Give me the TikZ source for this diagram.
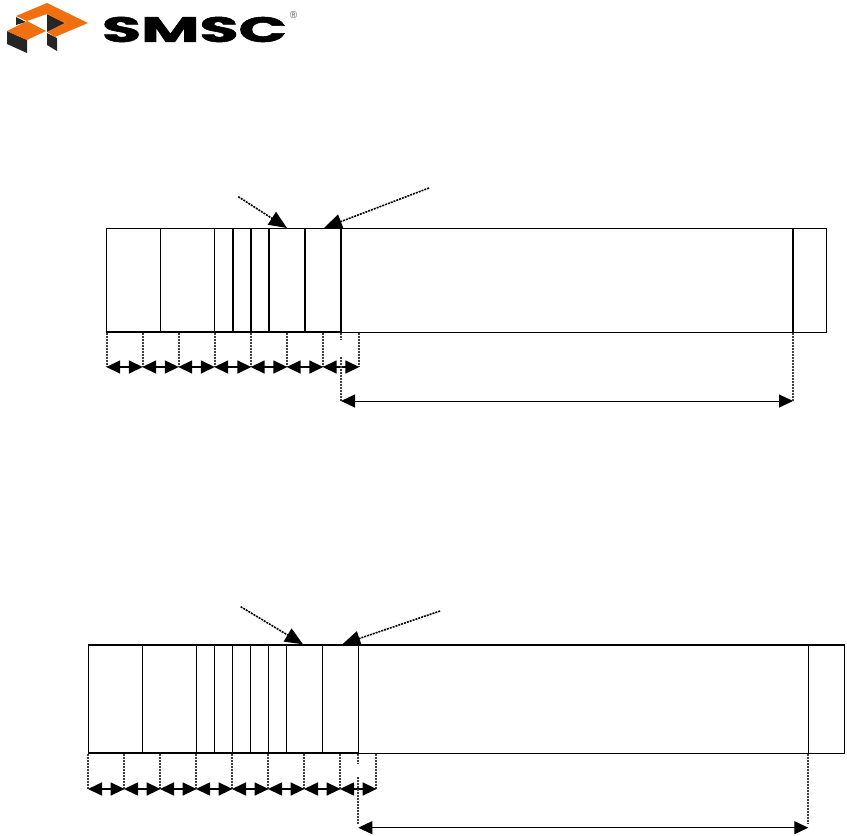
\documentclass[tikz,border=0pt]{standalone}
\usepackage{fontspec}
\setmainfont{Liberation Sans}
\newfontfamily\logofont[BoldFeatures={FakeBold=1.5}]{Poppins}
\usetikzlibrary{arrows.meta}
\definecolor{smscorange}{RGB}{240,112,16}
\definecolor{smscdark}{RGB}{38,38,38}
\tikzset{
  x=1pt,y=-1pt,
  frameline/.style={draw=black,line width=1pt},
  thickdiv/.style={draw=black,line width=1.6pt},
  guide/.style={draw=black!75,line width=2pt,dash pattern=on 2pt off 1pt},
  dim/.style={draw=black,line width=1pt,{Triangle[length=14pt,width=13pt]}-{Triangle[length=14pt,width=13pt]}},
  seg/.style={draw=black,line width=1.6pt,{Triangle[length=14pt,width=13pt]}-{Triangle[length=14pt,width=13pt]},shorten <=-0.3pt,shorten >=-0.3pt},
  pointer/.style={draw=black,line width=1.6pt,dash pattern=on 2pt off 1pt,-{Triangle[length=18pt,width=15pt,color=black]}},
}
\begin{document}
\begin{tikzpicture}
\useasboundingbox (0,0) rectangle (847,836);
% logo
\fill[smscdark] (7,31)--(27,40)--(27,53)--(7,44)--cycle;
\fill[smscdark] (16,17)--(26,22)--(16,25)--cycle;
\fill[smscdark] (47,14)--(65,23)--(47,32)--cycle;
\fill[smscdark] (47,33)--(57,38)--(57,51)--(47,45)--cycle;
\fill[smscorange] (16,16)--(47,3)--(88,23)--(55,37)--(47,32)--(65,23)--(47,14)--(27,21)--cycle;
\fill[smscorange] (7,31)--(27,21)--(46,31)--(27,40)--cycle;
\node[inner sep=0pt,anchor=center] (logotext) at (194.5,29.5) {\resizebox{185pt}{25pt}{\logofont\bfseries SMSC}};
\node[inner sep=0pt,text=black!65] (logoreg) at (293.5,15.5) {\fontsize{10}{10}\selectfont ®};

% ---------- upper frame ----------
\coordinate (aTL) at (106.5,228.3);
\coordinate (aBR) at (826,332);
\draw[frameline] (aTL) rectangle (aBR);
\draw[thickdiv] (106.5,332)--(341,332);
\foreach \x/\w in {160.4/frameline,214.4/frameline,233/thickdiv,251/thickdiv,269/thickdiv,305/thickdiv,341/thickdiv,793/thickdiv}
  \draw[\w] (\x,228.3)--(\x,332);
% guides
\foreach \n/\x in {0/106.5,1/142.5,2/178.5,3/214.5,4/251,5/287,6/323,7/359}{
  \coordinate (at\n) at (\x,332.5);
  \coordinate (ab\n) at (\x,367);
  \draw[guide] (at\n)--(ab\n);
}
\foreach \i/\j in {0/1,1/2,2/3,3/4,4/5,5/6,6/7}
  \draw[seg] (ab\i)--(ab\j);
\coordinate (aL1) at (341,332.5);
\coordinate (aL2) at (341,340);
\coordinate (aL3) at (341,356.5);
\coordinate (aL4) at (341,401);
\coordinate (aR1) at (793,332.5);
\coordinate (aR2) at (793,401);
\draw[guide] (aL1)--(aL2);
\draw[guide] (aL3)--(aL4);
\draw[guide] (aR1)--(aR2);
\draw[dim] (aL4)--(aR2);
\coordinate (ap1) at (238.3,196.7);
\coordinate (ap1t) at (287,228);
\coordinate (ap2) at (429,188);
\coordinate (ap2t) at (324,228);
\draw[pointer] (ap1)--(ap1t);
\draw[pointer] (ap2)--(ap2t);

% ---------- lower frame ----------
\coordinate (bTL) at (88.3,644.7);
\coordinate (bBR) at (844.3,753);
\draw[frameline] (bTL) rectangle (bBR);
\draw[thickdiv] (88.3,644.7)--(844.3,644.7);
\draw[thickdiv] (88.3,753)--(358.3,753);
\foreach \x in {142.3,196.3,214.3,232.3,250.3,268.3,286.3,322.3,358.3,808.3}
  \draw[frameline] (\x,644.7)--(\x,753);
\foreach \n/\x in {0/88.3,1/124.3,2/160.3,3/196.3,4/232.3,5/268.3,6/304.3,7/340.3,8/376.3}{
  \coordinate (bt\n) at (\x,753.5);
  \coordinate (bb\n) at (\x,789);
  \draw[guide] (bt\n)--(bb\n);
}
\foreach \i/\j in {0/1,1/2,2/3,3/4,4/5,5/6,6/7,7/8}
  \draw[seg] (bb\i)--(bb\j);
\coordinate (bL1) at (358.3,753.5);
\coordinate (bL2) at (358.3,763.5);
\coordinate (bL3) at (358.3,777);
\coordinate (bL4) at (358.3,827.7);
\coordinate (bR1) at (808.3,753.5);
\coordinate (bR2) at (808.3,827.7);
\draw[guide] (bL1)--(bL2);
\draw[guide] (bL3)--(358.3,824);
\draw[guide] (bR1)--(808.3,824);
\draw[dim] (bL4)--(bR2);
\coordinate (bp1) at (240.7,606.7);
\coordinate (bp1t) at (303,644.3);
\coordinate (bp2) at (440,611);
\coordinate (bp2t) at (342.3,644.3);
\draw[pointer] (bp1)--(bp1t);
\draw[pointer] (bp2)--(bp2t);
\end{tikzpicture}
\end{document}
